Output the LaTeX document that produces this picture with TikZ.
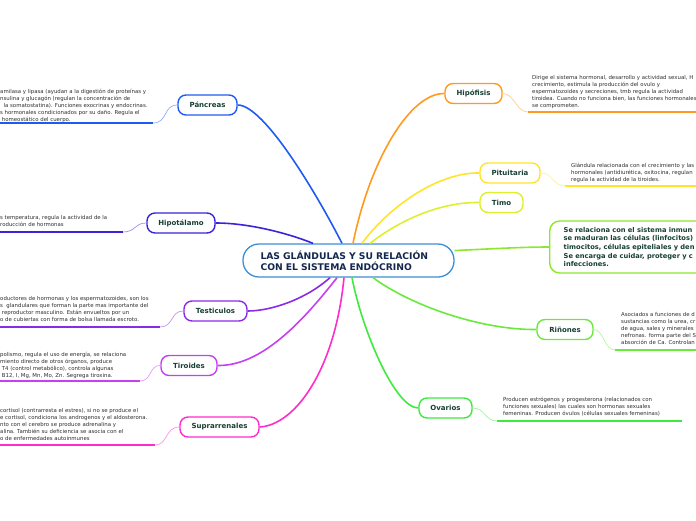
\documentclass[tikz,border=0pt]{standalone}
\usepackage{fontspec}
\setmainfont{DejaVu Sans}
\definecolor{cPan}{HTML}{1F5BF2}
\definecolor{cHipo}{HTML}{3A23DB}
\definecolor{cTes}{HTML}{8A2BE8}
\definecolor{cTir}{HTML}{C640F0}
\definecolor{cSup}{HTML}{FF2BCB}
\definecolor{cHif}{HTML}{FF9A1F}
\definecolor{cPit}{HTML}{FFE42A}
\definecolor{cTim}{HTML}{DDF02E}
\definecolor{cInm}{HTML}{8CE82C}
\definecolor{cRin}{HTML}{6AEA3C}
\definecolor{cOva}{HTML}{3DEB3D}
\definecolor{cCen}{HTML}{3B8FD4}
\definecolor{lbl}{HTML}{173F33}
\definecolor{dtext}{HTML}{2E2E2E}
\definecolor{ttl}{HTML}{13284F}
\begin{document}
\begin{tikzpicture}[x=1pt,y=-1pt,
  topic/.style={draw, rounded corners=8pt, line width=1.4pt, fill=white, minimum height=20pt, inner xsep=2pt, inner ysep=0pt, font=\fontsize{7}{8}\selectfont\bfseries, text=lbl},
  desc/.style={anchor=north west, inner sep=0pt, align=left, font=\fontsize{5.4}{7}\selectfont, text=dtext},
  branch/.style={line width=1.6pt},
  uline/.style={line width=1.8pt},
  twig/.style={line width=0.7pt}]
\useasboundingbox (0,0) rectangle (696,520);

% central node
\node[draw=cCen, line width=1.3pt, fill=white, rounded corners=16pt, minimum width=211pt, minimum height=33pt,
  text width=176pt, inner xsep=17.5pt, align=left, font=\fontsize{9.2}{11}\selectfont\bfseries, text=ttl]
  (c) at (348.5,260.5) {LAS GLÁNDULAS Y SU RELACIÓN\\CON EL SISTEMA ENDÓCRINO};

% topic nodes
\node[topic, draw=cPan, minimum width=59pt] (pan) at (207.5,105) {Páncreas};
\node[topic, draw=cHipo, minimum width=68pt] (hip) at (181,223) {Hipotálamo};
\node[topic, draw=cTes, minimum width=63pt] (tes) at (215.5,311) {Testiculos};
\node[topic, draw=cTir, minimum width=56pt] (tir) at (189,365.5) {Tiroides};
\node[topic, draw=cSup, minimum width=79pt] (sup) at (219.5,427) {Suprarrenales};
\node[topic, draw=cHif, minimum width=57pt] (hif) at (473.5,93.5) {Hipófisis};
\node[topic, draw=cPit, minimum width=60pt] (pit) at (510,173) {Pituitaria};
\node[topic, draw=cTim, minimum width=43pt] (tim) at (501.5,202.5) {Timo};
\node[topic, draw=cRin, minimum width=56pt] (rin) at (565,329.5) {Riñones};
\node[topic, draw=cOva, minimum width=53pt] (ova) at (445.5,408) {Ovarios};

% big immune node
\node[draw=cInm, line width=1.4pt, fill=white, rounded corners=10pt, anchor=west, minimum height=52pt,
  text width=150pt, inner xsep=14pt, align=left, font=\fontsize{6.7}{8.6}\selectfont\bfseries, text=lbl]
  (inm) at (549,247) {Se relaciona con el sistema inmun\\se maduran las células (linfocitos)\\timocitos, células epiteliales y den\\Se encarga de cuidar, proteger y c\\infecciones.};

% main branches
\draw[branch, cPan] ([xshift=-6.5pt]c.north) .. controls (320,200) and (265,105) .. (pan.east);
\draw[branch, cHipo] ([xshift=-35.5pt]c.north) .. controls (290,234) and (250,223) .. (hip.east);
\draw[branch, cHif] ([xshift=4.5pt]c.north) .. controls (370,160) and (410,93) .. (hif.west);
\draw[branch, cPit] ([xshift=13.5pt]c.north) .. controls (390,205) and (440,172) .. (pit.west);
\draw[branch, cTim] ([xshift=21.5pt]c.north) .. controls (400,220) and (440,202) .. (tim.west);
\draw[branch, cInm] ([yshift=10pt]c.east) .. controls (490,249) and (520,247) .. (inm.west);
\draw[branch, cRin] ([xshift=24.5pt]c.south) .. controls (410,305) and (480,330) .. (rin.west);
\draw[branch, cOva] ([xshift=3.5pt]c.south) .. controls (362,330) and (395,408) .. (ova.west);
\draw[branch, cTes] ([xshift=-18.5pt]c.south) .. controls (305,300) and (270,311) .. (tes.east);
\draw[branch, cTir] ([xshift=-11.5pt]c.south) .. controls (300,325) and (260,366) .. (tir.east);
\draw[branch, cSup] ([xshift=-4.5pt]c.south) .. controls (335,370) and (295,425) .. (sup.east);

% descriptions: left
\node[desc] (dpan) at (0,88.5) {amilasa y lipasa (ayudan a la digestión de proteínas y\\nsulina y glucagón (regulan la concentración de\\\ \ la somatostatina). Funciones exocrinas y endocrinas.\\s hormonales condicionados por su daño. Regula el\\\ homeostático del cuerpo.};
\coordinate (pa0) at (0,123); \coordinate (pa1) at (153,123);
\draw[uline, cPan] (pa0) -- (pa1);
\draw[twig, cPan!50] (pan.west) .. controls (163,105) and (168,123) .. (pa1);

\node[desc] (dhip) at (0,215.5) {s temperatura, regula la actividad de la\\roducción de hormonas};
\coordinate (hi0) at (0,232); \coordinate (hi1) at (123,232);
\draw[uline, cHipo] (hi0) -- (hi1);
\draw[twig, cHipo!50] (hip.west) .. controls (134,223) and (136,232) .. (hi1);

\node[desc] (dtes) at (0,296.5) {oductores de hormonas y los espermatozoides, son los\\s\ \ glandulares que forman la parte mas importante del\\\ reproductor masculino. Están envueltos por un\\o de cubiertas con forma de bolsa llamada escroto.};
\coordinate (te0) at (0,327); \coordinate (te1) at (160,327);
\draw[uline, cTes] (te0) -- (te1);
\draw[twig, cTes!50] (tes.west) .. controls (170,311) and (174,327) .. (te1);

\node[desc] (dtir) at (0,351.5) {polismo, regula el uso de energía, se relaciona\\miento directo de otros órganos, produce\\\ T4 (control metabólico), controla algunas\\\ B12, I, Mg, Mn, Mo, Zn. Segrega tiroxina.};
\coordinate (ti0) at (0,381); \coordinate (ti1) at (140,381);
\draw[uline, cTir] (ti0) -- (ti1);
\draw[twig, cTir!50] (tir.west) .. controls (149,365) and (152,381) .. (ti1);

\node[desc] (dsup) at (0,408.5) {cortisol (contrarresta el estres), si no se produce el\\e cortisol, condiciona los androgenos y el aldosterona.\\nto con el cerebro se produce adrenalina y\\alina. También su deficiencia se asocia con el\\o de enfermedades autoinmunes};
\coordinate (su0) at (0,445); \coordinate (su1) at (155,445);
\draw[uline, cSup] (su0) -- (su1);
\draw[twig, cSup!50] (sup.west) .. controls (165,427) and (168,445) .. (su1);

% descriptions: right
\node[desc] (dhif) at (532,75.5) {Dirige el sistema hormonal, desarrollo y actividad sexual, H\\crecimiento, estimula la producción del ovulo y\\espermatozoides y secreciones, tmb regula la actividad\\tiroidea. Cuando no funciona bien, las funciones hormonales\\se comprometen.};
\coordinate (hf0) at (528,112); \coordinate (hf1) at (696,112);
\draw[uline, cHif] (hf0) -- (hf1);
\draw[twig, cHif!50] (hif.east) .. controls (515,94) and (516,112) .. (hf0);

\node[desc] (dpit) at (571,162.5) {Glándula relacionada con el crecimiento y las\\hormonales (antidiurética, oxitocina, regulan\\regula la actividad de la tiroides.};
\coordinate (pt0) at (565,186); \coordinate (pt1) at (696,186);
\draw[uline, cPit] (pt0) -- (pt1);
\draw[twig, cPit!50] (pit.east) .. controls (553,173) and (553,186) .. (pt0);

\node[desc] (drin) at (621,312.5) {Asociados a funciones de d\\sustancias como la urea, cr\\de agua, sales y minerales\\nefronas. forma parte del S\\absorción de Ca. Controlan};
\coordinate (ri0) at (615,350); \coordinate (ri1) at (696,350);
\draw[uline, cRin] (ri0) -- (ri1);
\draw[twig, cRin!50] (rin.east) .. controls (604,330) and (604,350) .. (ri0);

\node[desc] (dova) at (503,396.5) {Producen estrógenos y progesterona (relacionados con\\funciones sexuales) las cuales son hormonas sexuales\\femeninas. Producen óvulos (células sexuales femeninas)};
\coordinate (ov0) at (497,421); \coordinate (ov1) at (682,421);
\draw[uline, cOva] (ov0) -- (ov1);
\draw[twig, cOva!50] (ova.east) .. controls (485,408) and (485,421) .. (ov0);
\end{tikzpicture}
\end{document}
